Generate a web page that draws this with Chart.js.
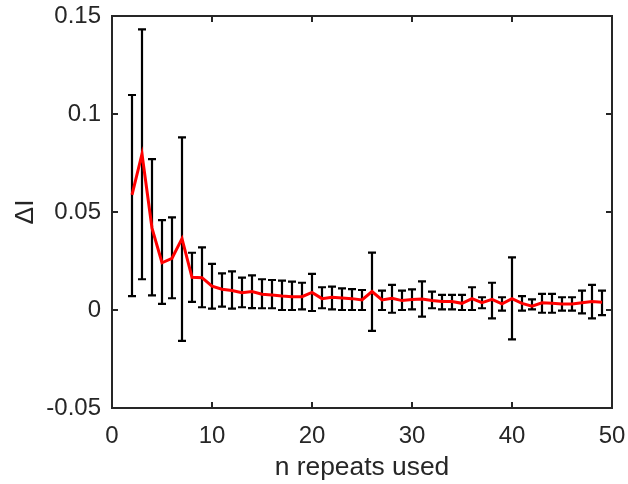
<!DOCTYPE html>
<html>
<head>
<meta charset="utf-8">
<script src="https://cdn.jsdelivr.net/npm/chart.js@4.4.1/dist/chart.umd.min.js"></script>
<style>
  html, body { margin: 0; padding: 0; background: #ffffff; }
  #c { display: block; }
</style>
</head>
<body>
<canvas id="c" width="628" height="484"></canvas>
<script>
// ---- data ----
const nRepeats = [2,3,4,5,6,7,8,9,10,11,12,13,14,15,16,17,18,19,20,21,22,23,24,25,26,27,28,29,30,31,32,33,34,35,36,37,38,39,40,41,42,43,44,45,46,47,48,49];
const meanDI = [0.0587,0.0796,0.0418,0.0241,0.0264,0.0364,0.0167,0.0165,0.0122,0.0106,0.0099,0.0088,0.0094,0.0080,0.0077,0.0071,0.0068,0.0068,0.0090,0.0058,0.0065,0.0061,0.0058,0.0051,0.0094,0.0051,0.0060,0.0048,0.0054,0.0056,0.0048,0.0043,0.0043,0.0034,0.0058,0.0037,0.0054,0.0031,0.0058,0.0034,0.0020,0.0037,0.0034,0.0031,0.0031,0.0037,0.0043,0.0040];
const upperDI = [0.1097,0.1432,0.0770,0.0459,0.0473,0.0881,0.0292,0.0320,0.0235,0.0187,0.0197,0.0165,0.0177,0.0157,0.0153,0.0150,0.0145,0.0139,0.0184,0.0116,0.0119,0.0110,0.0106,0.0102,0.0293,0.0099,0.0128,0.0099,0.0105,0.0146,0.0094,0.0077,0.0077,0.0077,0.0116,0.0065,0.0139,0.0065,0.0269,0.0071,0.0054,0.0082,0.0082,0.0065,0.0065,0.0099,0.0128,0.0099];
const lowerDI = [0.0071,0.0157,0.0075,0.0031,0.0060,-0.0158,0.0041,0.0014,0.0007,0.0017,0.0007,0.0014,0.0010,0.0009,0.0009,0.0000,0.0000,0.0003,-0.0005,0.0009,0.0003,0.0000,0.0000,0.0000,-0.0107,0.0000,-0.0014,0.0000,0.0003,-0.0034,0.0009,0.0003,0.0003,0.0000,0.0000,0.0009,-0.0043,-0.0003,-0.0150,-0.0003,0.0003,-0.0014,-0.0014,-0.0003,-0.0003,-0.0017,-0.0043,-0.0026];
const xTicks = [0,10,20,30,40,50];
const yTicks = [-0.05,0,0.05,0.1,0.15];
const xTitle = 'n repeats used';
const yTitle = 'ΔI';

const AXIS_COLOR = '#262626';
const FONT = '"Liberation Sans", Arial, Helvetica, sans-serif';

const errorBarPlugin = {
  id: 'errorBars',
  beforeDatasetsDraw(chart) {
    const ctx = chart.ctx;
    const xs = chart.scales.x, ys = chart.scales.y;
    ctx.save();
    ctx.strokeStyle = '#000000';
    ctx.lineWidth = 2.2;
    const cap = 4;
    for (let i = 0; i < nRepeats.length; i++) {
      const px = xs.getPixelForValue(nRepeats[i]);
      const pt = ys.getPixelForValue(upperDI[i]);
      const pb = ys.getPixelForValue(lowerDI[i]);
      ctx.beginPath();
      ctx.moveTo(px, pt); ctx.lineTo(px, pb);
      ctx.moveTo(px - cap, pt); ctx.lineTo(px + cap, pt);
      ctx.moveTo(px - cap, pb); ctx.lineTo(px + cap, pb);
      ctx.stroke();
    }
    ctx.restore();
  }
};

const boxPlugin = {
  id: 'matlabBox',
  afterDatasetsDraw(chart) {
    const ctx = chart.ctx;
    const a = chart.chartArea;
    const xs = chart.scales.x, ys = chart.scales.y;
    const tl = 6;
    ctx.save();
    ctx.strokeStyle = AXIS_COLOR;
    ctx.lineWidth = 2;
    ctx.beginPath();
    xs.ticks.forEach(t => {
      const px = xs.getPixelForValue(t.value);
      ctx.moveTo(px, a.bottom); ctx.lineTo(px, a.bottom - tl);
      ctx.moveTo(px, a.top); ctx.lineTo(px, a.top + tl);
    });
    ys.ticks.forEach(t => {
      const py = ys.getPixelForValue(t.value);
      ctx.moveTo(a.left, py); ctx.lineTo(a.left + tl, py);
      ctx.moveTo(a.right, py); ctx.lineTo(a.right - tl, py);
    });
    ctx.stroke();
    ctx.strokeRect(a.left, a.top, a.right - a.left, a.bottom - a.top);
    ctx.restore();
  }
};

new Chart(document.getElementById('c'), {
  type: 'line',
  data: {
    datasets: [{
      label: 'mean ΔI',
      data: nRepeats.map((n, i) => ({ x: n, y: meanDI[i] })),
      borderColor: '#ff0000',
      borderWidth: 3,
      pointRadius: 0,
      tension: 0,
      fill: false
    }]
  },
  options: {
    responsive: false,
    animation: false,
    devicePixelRatio: 1,
    layout: { padding: { top: 16, right: 16, left: 0, bottom: 0 } },
    plugins: { legend: { display: false }, tooltip: { enabled: false } },
    scales: {
      x: {
        type: 'linear',
        min: 0, max: 50,
        afterBuildTicks: s => { s.ticks = xTicks.map(v => ({ value: v })); },
        afterFit: s => { s.height = 76; s.paddingLeft = 0; s.paddingRight = 0; },
        grid: { display: false, drawTicks: false },
        border: { display: false },
        ticks: {
          padding: 14,
          color: AXIS_COLOR,
          font: { family: FONT, size: 24 },
          maxRotation: 0,
          callback: v => String(v)
        },
        title: {
          display: true,
          text: xTitle,
          color: AXIS_COLOR,
          font: { family: FONT, size: 26.4 },
          padding: { top: 0, bottom: 0 }
        }
      },
      y: {
        type: 'linear',
        min: -0.05, max: 0.15,
        afterBuildTicks: s => { s.ticks = yTicks.map(v => ({ value: v })); },
        afterFit: s => { s.width = 112; s.paddingTop = 0; s.paddingBottom = 0; },
        grid: { display: false, drawTicks: false },
        border: { display: false },
        ticks: {
          padding: 11,
          color: AXIS_COLOR,
          font: { family: FONT, size: 24 },
          callback: v => String(v)
        },
        title: {
          display: true,
          text: yTitle,
          color: AXIS_COLOR,
          font: { family: FONT, size: 26.4 },
          padding: { top: 10, bottom: 0 }
        }
      }
    }
  },
  plugins: [errorBarPlugin, boxPlugin]
});
</script>
</body>
</html>
